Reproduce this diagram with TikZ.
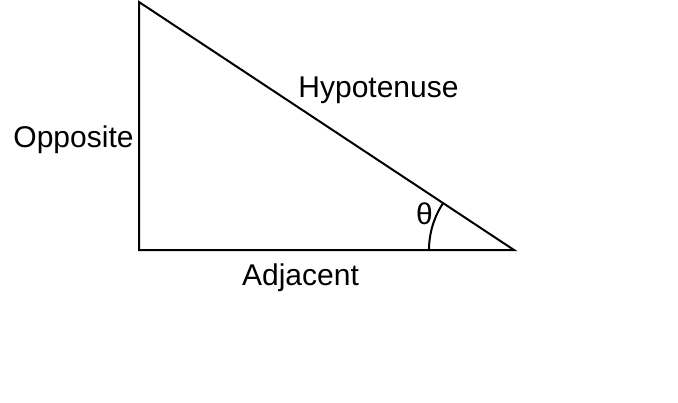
\documentclass[tikz,border=0pt]{standalone}
\usepackage{fontspec}
\setmainfont{Liberation Sans}
\usepackage{tikz}
\usetikzlibrary{positioning,calc}
\definecolor{ink}{HTML}{000000}
\tikzset{
  every node/.style={font=\fontsize{22.5}{26}\selectfont,text=ink,inner sep=0pt},
  side/.style={draw=ink,line width=1.5pt,line join=miter},
  lbl/.style={anchor=base},
}
\begin{document}
\begin{tikzpicture}[x=0.75pt,y=-0.75pt]
  \useasboundingbox (0,0) rectangle (678,403);
  \coordinate (top) at (139,2);
  \coordinate (rt) at (139,250);
  \coordinate (tip) at (514,250);
  \draw[side] (top) -- (rt) -- (tip) -- cycle;
  % angle arc at the tip
  \draw[ink,line width=1.5pt] ($(tip)+(-85,0)$) arc[start angle=180,end angle=146.5,radius=63.75pt];
  \node[lbl] (hyp) at (378.5,98) {Hypotenuse};
  \node[lbl] (opp) at (73.5,147) {Opposite};
  \node[lbl] (adj) at (300.5,285) {Adjacent};
  \node[lbl] (th) at (424.5,224) {θ};
\end{tikzpicture}
\end{document}
